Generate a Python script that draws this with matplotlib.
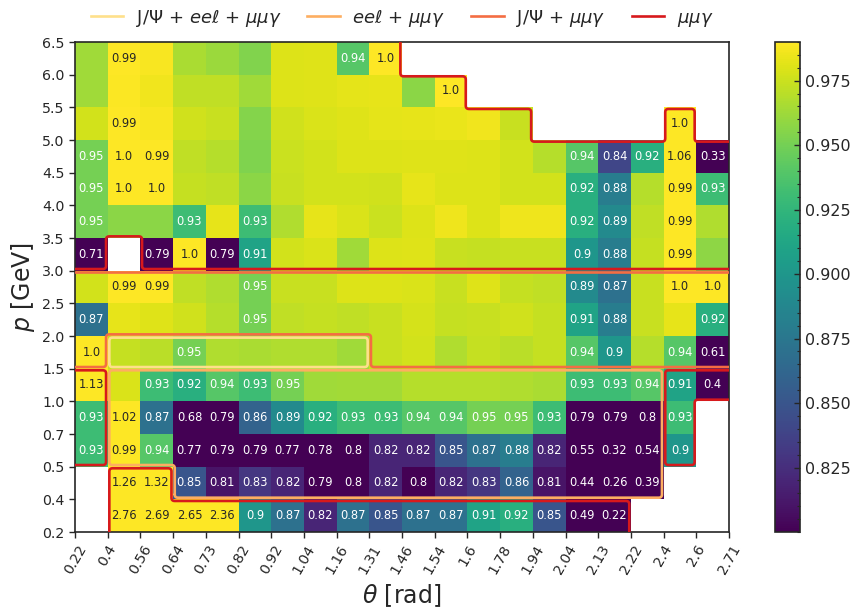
import numpy as np
import matplotlib
matplotlib.use("Agg")
import matplotlib.pyplot as plt
from matplotlib.lines import Line2D
from matplotlib.ticker import MultipleLocator

# ---------------- data ----------------
theta_edges = [0.22, 0.4, 0.56, 0.64, 0.73, 0.82, 0.92, 1.04, 1.16, 1.31, 1.46,
               1.54, 1.6, 1.78, 1.94, 2.04, 2.13, 2.22, 2.4, 2.6, 2.71]
p_edges = [0.2, 0.4, 0.5, 0.7, 1.0, 1.5, 2.0, 2.5, 3.0, 3.5, 4.0, 4.5, 5.0, 5.5, 6.0, 6.5]

nan = np.nan
# efficiency per cell, rows from low p (0.2-0.4) to high p (6.0-6.5)
eff_r0 = [nan, 2.76, 2.69, 2.65, 2.36, 0.9, 0.87, 0.82, 0.87, 0.85, 0.87, 0.87, 0.91, 0.92, 0.85, 0.49, 0.22, nan, nan, nan]
eff_r1 = [nan, 1.26, 1.32, 0.85, 0.81, 0.83, 0.82, 0.79, 0.8, 0.82, 0.8, 0.82, 0.83, 0.86, 0.81, 0.44, 0.26, 0.39, nan, nan]
eff_r2 = [0.93, 0.99, 0.94, 0.77, 0.79, 0.79, 0.77, 0.78, 0.8, 0.82, 0.82, 0.85, 0.87, 0.88, 0.82, 0.55, 0.32, 0.54, 0.9, nan]
eff_r3 = [0.93, 1.02, 0.87, 0.68, 0.79, 0.86, 0.89, 0.92, 0.93, 0.93, 0.94, 0.94, 0.95, 0.95, 0.93, 0.79, 0.79, 0.8, 0.93, nan]
eff_r4 = [1.13, 0.979, 0.93, 0.92, 0.94, 0.93, 0.95, 0.963, 0.964, 0.964, 0.969, 0.969, 0.969, 0.967, 0.966, 0.93, 0.93, 0.94, 0.91, 0.4]
eff_r5 = [1.0, 0.973, 0.970, 0.95, 0.967, 0.966, 0.967, 0.967, 0.963, 0.974, 0.977, 0.967, 0.973, 0.970, 0.973, 0.94, 0.9, 0.969, 0.94, 0.61]
eff_r6 = [0.87, 0.983, 0.981, 0.976, 0.969, 0.95, 0.972, 0.973, 0.972, 0.974, 0.978, 0.973, 0.974, 0.976, 0.973, 0.91, 0.88, 0.974, 0.983, 0.92]
eff_r7 = [0.977, 0.99, 0.99, 0.972, 0.967, 0.95, 0.974, 0.974, 0.980, 0.980, 0.979, 0.974, 0.981, 0.973, 0.972, 0.89, 0.87, 0.974, 1.0, 1.0]
eff_r8 = [0.71, nan, 0.79, 1.0, 0.79, 0.91, 0.977, 0.979, 0.963, 0.980, 0.9805, 0.974, 0.973, 0.974, 0.974, 0.9, 0.88, 0.973, 0.99, 0.958]
eff_r9 = [0.95, 0.957, 0.957, 0.93, 0.983, 0.93, 0.967, 0.983, 0.979, 0.975, 0.980, 0.985, 0.980, 0.985, 0.985, 0.92, 0.89, 0.972, 0.99, 0.967]
eff_r10 = [0.95, 1.0, 1.0, 0.973, 0.972, 0.957, 0.974, 0.977, 0.977, 0.976, 0.983, 0.980, 0.980, 0.977, 0.977, 0.92, 0.88, 0.969, 0.99, 0.93]
eff_r11 = [0.95, 1.0, 0.99, 0.972, 0.969, 0.953, 0.975, 0.977, 0.980, 0.980, 0.9805, 0.9805, 0.980, 0.977, 0.969, 0.94, 0.84, 0.92, 1.06, 0.33]
eff_r12 = [0.977, 0.99, 0.988, 0.976, 0.974, 0.955, 0.976, 0.979, 0.981, 0.982, 0.983, 0.984, 0.986, 0.974, nan, nan, nan, nan, 1.0, nan]
eff_r13 = [0.963, 0.989, 0.986, 0.972, 0.972, 0.963, 0.980, 0.981, 0.982, 0.983, 0.957, 1.0, nan, nan, nan, nan, nan, nan, nan, nan]
eff_r14 = [0.963, 0.99, 0.988, 0.966, 0.9615, 0.954, 0.980, 0.981, 0.94, 1.0, nan, nan, nan, nan, nan, nan, nan, nan, nan, nan]
eff = np.array([eff_r0, eff_r1, eff_r2, eff_r3, eff_r4, eff_r5, eff_r6, eff_r7,
                eff_r8, eff_r9, eff_r10, eff_r11, eff_r12, eff_r13, eff_r14], dtype=float)

# which cells carry a printed value (1) — rows low p -> high p
shown = [
    "01111111111111111000",
    "01111111111111111100",
    "11111111111111111110",
    "11111111111111111110",
    "10111110000000011111",
    "10010000000000011011",
    "10000100000000011001",
    "01100100000000011011",
    "10111100000000011010",
    "10010100000000011010",
    "11100000000000011011",
    "11100000000000011111",
    "01000000000000000010",
    "00000000000100000000",
    "01000000110000000000",
]

# sample combination regions: Y = J/Psi+eel+mumugamma, O = eel+mumugamma,
# R = J/Psi+mumugamma, M = mumugamma, . = none
regions = [
    ".MMMMMMMMMMMMMMMM...",
    ".MMOOOOOOOOOOOOOOO..",
    "MOOOOOOOOOOOOOOOOOM.",
    "MOOOOOOOOOOOOOOOOOM.",
    "MOOOOOOOOOOOOOOOOOMM",
    "RYYYYYYYYRRRRRRRRRRR",
    "RRRRRRRRRRRRRRRRRRRR",
    "RRRRRRRRRRRRRRRRRRRR",
    "M.MMMMMMMMMMMMMMMMMM",
    "MMMMMMMMMMMMMMMMMMMM",
    "MMMMMMMMMMMMMMMMMMMM",
    "MMMMMMMMMMMMMMMMMMMM",
    "MMMMMMMMMMMMMM....M.",
    "MMMMMMMMMMMM........",
    "MMMMMMMMMM..........",
]
region_codes = ["Y", "O", "R", "M"]
region_labels = [r"J/Ψ + $ee\ell$ + $\mu\mu\gamma$", r"$ee\ell$ + $\mu\mu\gamma$",
                 r"J/Ψ + $\mu\mu\gamma$", r"$\mu\mu\gamma$"]
region_colors = ["#fee08b", "#fdae61", "#f46d43", "#d7191c"]

# ---------------- helpers ----------------
def boundary_edges(code):
    edges = []
    nr, nc = len(regions), len(regions[0])
    for r in range(nr):
        for c in range(nc):
            if regions[r][c] != code:
                continue
            if r > 0 and regions[r - 1][c] != code:
                edges.append(((c, r), (c + 1, r)))
            if c < nc - 1 and regions[r][c + 1] != code:
                edges.append(((c + 1, r), (c + 1, r + 1)))
            if r < nr - 1 and regions[r + 1][c] != code:
                edges.append(((c + 1, r + 1), (c, r + 1)))
            if c > 0 and regions[r][c - 1] != code:
                edges.append(((c, r + 1), (c, r)))
    return edges


def chains(edges):
    out = {}
    inc = set()
    for i, (a, b) in enumerate(edges):
        out.setdefault(a, []).append(i)
        inc.add(b)
    used = [False] * len(edges)

    def follow(i):
        pts = [edges[i][0], edges[i][1]]
        used[i] = True
        while True:
            a, b = pts[-2], pts[-1]
            d = (b[0] - a[0], b[1] - a[1])
            cands = [j for j in out.get(b, []) if not used[j]]
            if not cands:
                break

            def pref(j):
                e = edges[j]
                nd = (e[1][0] - e[0][0], e[1][1] - e[0][1])
                return -(d[0] * nd[1] - d[1] * nd[0])
            j = min(cands, key=pref)
            used[j] = True
            pts.append(edges[j][1])
        return pts

    res = []
    for i, (a, b) in enumerate(edges):
        if a not in inc and not used[i]:
            res.append((follow(i), False))
    for i in range(len(edges)):
        if not used[i]:
            pts = follow(i)
            closed = pts[0] == pts[-1]
            if closed:
                pts = pts[:-1]
            res.append((pts, closed))
    return res


def simplify(pts, closed):
    n = len(pts)
    keep = []
    for k in range(n):
        if not closed and (k == 0 or k == n - 1):
            keep.append(pts[k])
            continue
        p0, p1, p2 = pts[k - 1], pts[k], pts[(k + 1) % n]
        d1 = (p1[0] - p0[0], p1[1] - p0[1])
        d2 = (p2[0] - p1[0], p2[1] - p1[1])
        if d1[0] * d2[1] - d1[1] * d2[0] != 0:
            keep.append(p1)
    return keep


def unit(a, b):
    v = np.asarray(b, float) - np.asarray(a, float)
    return v / np.hypot(*v)


def left(u):
    return np.array([-u[1], u[0]])


def outline(pts, closed, d, rad):
    P = [np.array(p, float) for p in pts]
    n = len(P)
    res = []
    for k in range(n):
        if not closed and k == 0:
            res.append(P[0] + d * left(unit(P[0], P[1])))
            continue
        if not closed and k == n - 1:
            res.append(P[-1] + d * left(unit(P[-2], P[-1])))
            continue
        u1 = unit(P[k - 1], P[k])
        u2 = unit(P[k], P[(k + 1) % n])
        q = P[k] + d * (left(u1) + left(u2))
        a = q - rad * u1
        b = q + rad * u2
        for t in np.linspace(0, 1, 7):
            res.append((1 - t) ** 2 * a + 2 * (1 - t) * t * q + t ** 2 * b)
    if closed:
        res.append(res[0])
    return np.array(res)


# ---------------- figure ----------------
plt.rcParams["font.family"] = ["DejaVu Sans"]
TXT = "#262626"
fig = plt.figure(figsize=(8.57, 6.10), dpi=100)
ax = fig.add_axes([75 / 857, 78 / 610, 654 / 857, 490 / 610])
cax = fig.add_axes([775 / 857, 78 / 610, 25 / 857, 490 / 610])

nx, ny = len(theta_edges) - 1, len(p_edges) - 1
mesh = ax.pcolormesh(np.arange(nx + 1), np.arange(ny + 1), eff, cmap="viridis",
                     vmin=0.8, vmax=0.99)

for r in range(ny):
    for c in range(nx):
        if shown[r][c] == "1" and not np.isnan(eff[r, c]):
            v = eff[r, c]
            col = TXT if v >= 0.96 else "white"
            ax.text(c + 0.5, r + 0.5, str(round(v, 2)), ha="center", va="center",
                    fontsize=8.3, color=col)

handles = []
for code, lab, colr, z in zip(region_codes, region_labels, region_colors, [3, 4, 5, 6]):
    for pts, closed in chains(boundary_edges(code)):
        sp = simplify(pts, closed)
        xy = outline(sp, closed, 0.05, 0.1)
        ax.plot(xy[:, 0], xy[:, 1], color=colr, lw=1.9, solid_joinstyle="round",
                solid_capstyle="round", zorder=z)
    handles.append(Line2D([], [], color=colr, lw=1.9, label=lab))

ax.set_xlim(0, nx)
ax.set_ylim(0, ny)
ax.set_xticks(np.arange(nx + 1))
ax.set_xticklabels([str(v) for v in theta_edges], rotation=60)
ax.set_yticks(np.arange(ny + 1))
ax.set_yticklabels([str(v) for v in p_edges])
ax.tick_params(direction="out", length=4, width=1, colors=TXT, labelsize=10.2)
for s in ax.spines.values():
    s.set_color(TXT)
    s.set_linewidth(1.2)
ax.set_xlabel(r"$\theta$ [rad]", fontsize=17, color=TXT)
ax.set_ylabel(r"$p$ [GeV]", fontsize=17, color=TXT)

ax.legend(handles=handles, loc="lower center", bbox_to_anchor=(0.5, 0.994), ncol=4,
          frameon=False, fontsize=13, handlelength=1.8, handletextpad=0.7,
          columnspacing=1.45, labelcolor=TXT)

cb = fig.colorbar(mesh, cax=cax)
cb.set_ticks([0.825, 0.85, 0.875, 0.9, 0.925, 0.95, 0.975])
cb.ax.yaxis.set_major_formatter(matplotlib.ticker.FormatStrFormatter("%.3f"))
cb.ax.yaxis.set_minor_locator(MultipleLocator(0.005))
cb.ax.tick_params(which="major", direction="in", length=4, width=1, colors=TXT,
                  labelsize=11.5)
cb.ax.tick_params(which="minor", direction="in", length=2.5, width=0.8, colors=TXT)
cb.outline.set_edgecolor(TXT)
cb.outline.set_linewidth(1.2)

fig.savefig("out.png", dpi=100)
